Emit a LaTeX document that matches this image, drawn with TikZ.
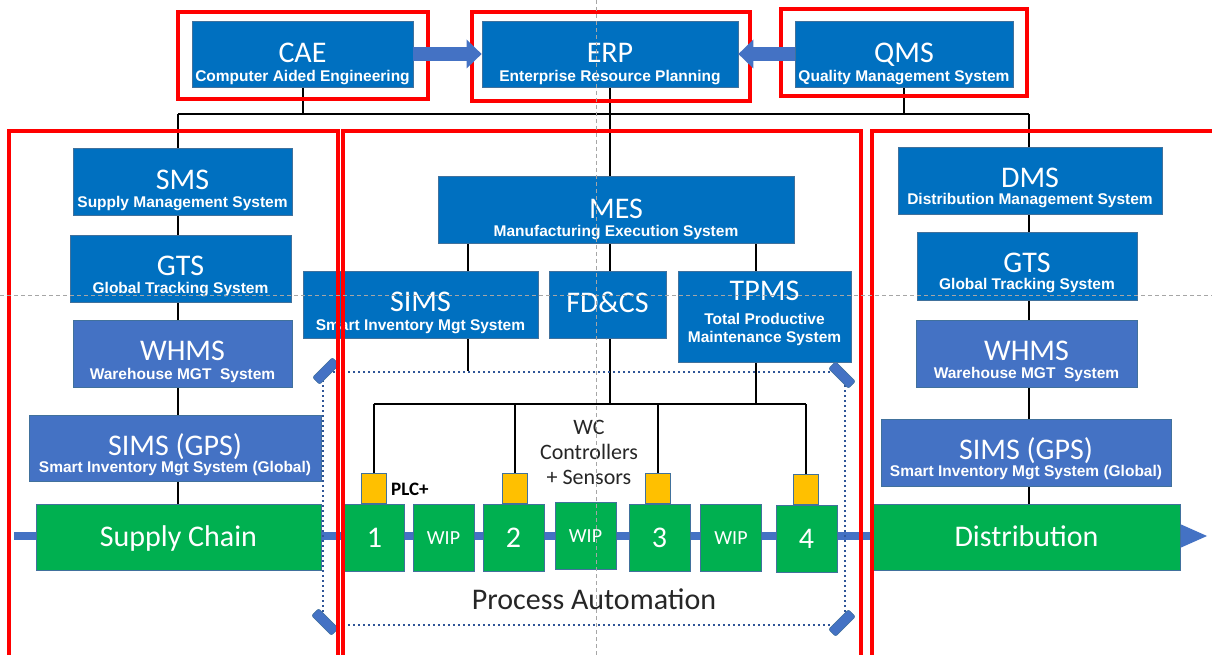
\documentclass[tikz,border=0pt]{standalone}
\usepackage{fontspec}
\setmainfont{Carlito}
\newfontfamily\subfont{Liberation Sans}
\usetikzlibrary{arrows.meta,backgrounds}

\definecolor{sysblue}{HTML}{0070C0}
\definecolor{midblue}{HTML}{4472C4}
\definecolor{edgeblue}{HTML}{41719C}
\definecolor{dotblue}{HTML}{2F5597}
\definecolor{cellgreen}{HTML}{00B050}
\definecolor{plcyellow}{HTML}{FFC000}
\definecolor{guidegray}{HTML}{A6A6A6}
\definecolor{inkgray}{HTML}{262626}

\tikzset{
	sysbox/.style={draw=edgeblue, line width=0.8pt, fill=sysblue, inner sep=0pt},
	whbox/.style={sysbox, fill=midblue},
	cellbox/.style={draw=edgeblue, line width=0.8pt, fill=cellgreen, inner sep=0pt, text=white, minimum width=61pt, minimum height=67pt, font=\fontsize{30}{32}\selectfont, text height=19pt, text depth=0pt},
	wipbox/.style={cellbox, font=\fontsize{20}{22}\selectfont, text height=13pt},
	plcbox/.style={draw=edgeblue, line width=0.8pt, fill=plcyellow, minimum width=25pt, minimum height=30pt, inner sep=0pt, anchor=south},
	systitle/.style={anchor=base, inner sep=0pt, text=white, font=\fontsize{30}{32}\selectfont},
	syssub/.style={anchor=base, inner sep=0pt, text=white, font=\subfont\bfseries\fontsize{15.5}{18}\selectfont},
	redframe/.style={draw=red, line width=3.3pt},
	wire/.style={draw=black, line width=2pt},
	flowline/.style={draw=midblue, line width=8pt, -{Triangle[length=27pt, width=24pt, line width=0pt]}},
	blockarrow/.style={draw=midblue, line width=14pt, -{Triangle[length=15pt, width=29pt, line width=0pt]}},
	cornertab/.style={fill=midblue, draw=edgeblue, line width=0.5pt, rounded corners=2pt, minimum width=28pt, minimum height=10pt, inner sep=0pt},
	dotframe/.style={draw=dotblue, line width=2pt, dash pattern=on 2pt off 3pt, inner sep=0pt},
	guide/.style={draw=guidegray, line width=1pt, dash pattern=on 4pt off 3pt}
}

\begin{document}
\begin{tikzpicture}[x=1pt, y=-1pt]
	\useasboundingbox (0,0) rectangle (1212,655);

	% enterprise level
	\node[sysbox, minimum width=221pt, minimum height=66pt] (cae) at (302.5,54) {};
	\node[systitle] (cae-t) at ([yshift=-42pt]cae.north) {CAE};
	\node[syssub] (cae-s) at ([yshift=-61pt]cae.north) {Computer Aided Engineering};
	\node[sysbox, minimum width=256pt, minimum height=66pt] (erp) at (610,54) {};
	\node[systitle] (erp-t) at ([yshift=-42pt]erp.north) {ERP};
	\node[syssub] (erp-s) at ([yshift=-61pt]erp.north) {Enterprise Resource Planning};
	\node[sysbox, minimum width=218pt, minimum height=66pt] (qms) at (904,54) {};
	\node[systitle] (qms-t) at ([yshift=-42pt]qms.north) {QMS};
	\node[syssub] (qms-s) at ([yshift=-61pt]qms.north) {Quality Management System};

	% supply chain column
	\node[sysbox, minimum width=219pt, minimum height=67pt] (sms) at (182.5,181.5) {};
	\node[systitle] (sms-t) at ([yshift=-42pt]sms.north) {SMS};
	\node[syssub] (sms-s) at ([yshift=-60pt]sms.north) {Supply Management System};
	\node[sysbox, minimum width=221pt, minimum height=67pt] (gts-l) at (180.5,268.5) {};
	\node[systitle] (gts-l-t) at ([yshift=-41pt]gts-l.north) {GTS};
	\node[syssub] (gts-l-s) at ([yshift=-59pt]gts-l.north) {Global Tracking System};
	\node[whbox, minimum width=219pt, minimum height=67pt] (whms-l) at (182.5,353.5) {};
	\node[systitle] (whms-l-t) at ([yshift=-41pt]whms-l.north) {WHMS};
	\node[syssub] (whms-l-s) at ([yshift=-60pt]whms-l.north) {Warehouse MGT\ \ System};
	\node[whbox, minimum width=292pt, minimum height=66pt] (gps-l) at (175,448) {};
	\node[systitle] (gps-l-t) at ([yshift=-41pt]gps-l.north) {SIMS (GPS)};
	\node[syssub] (gps-l-s) at ([yshift=-58pt]gps-l.north) {Smart Inventory Mgt System (Global)};
	\node[cellbox, minimum width=285pt, minimum height=66pt] (supply) at (178.5,537) {Supply Chain};

	% distribution column
	\node[sysbox, minimum width=264pt, minimum height=67pt] (dms) at (1030,180.5) {};
	\node[systitle] (dms-t) at ([yshift=-41pt]dms.north) {DMS};
	\node[syssub] (dms-s) at ([yshift=-58pt]dms.north) {Distribution Management System};
	\node[sysbox, minimum width=220pt, minimum height=68pt] (gts-r) at (1027,266) {};
	\node[systitle] (gts-r-t) at ([yshift=-41pt]gts-r.north) {GTS};
	\node[syssub] (gts-r-s) at ([yshift=-58pt]gts-r.north) {Global Tracking System};
	\node[whbox, minimum width=221pt, minimum height=67pt] (whms-r) at (1026.5,353.5) {};
	\node[systitle] (whms-r-t) at ([yshift=-41pt]whms-r.north) {WHMS};
	\node[syssub] (whms-r-s) at ([yshift=-59pt]whms-r.north) {Warehouse MGT\ \ System};
	\node[whbox, minimum width=290pt, minimum height=67pt] (gps-r) at (1026,452.5) {};
	\node[systitle] (gps-r-t) at ([yshift=-41pt]gps-r.north) {SIMS (GPS)};
	\node[syssub] (gps-r-s) at ([yshift=-58pt]gps-r.north) {Smart Inventory Mgt System (Global)};
	\node[cellbox, minimum width=307pt, minimum height=66pt] (distrib) at (1026.5,537) {Distribution};

	% manufacturing level
	\node[sysbox, minimum width=356pt, minimum height=67pt] (mes) at (616,209.5) {};
	\node[systitle] (mes-t) at ([yshift=-43pt]mes.north) {MES};
	\node[syssub] (mes-s) at ([yshift=-61pt]mes.north) {Manufacturing Execution System};
	\node[sysbox, minimum width=235pt, minimum height=67pt] (sims-m) at (420.5,304.5) {};
	\node[systitle] (sims-m-t) at ([yshift=-41pt]sims-m.north) {SIMS};
	\node[syssub] (sims-m-s) at ([yshift=-60pt]sims-m.north) {Smart Inventory Mgt System};
	\node[sysbox, minimum width=117pt, minimum height=67pt] (fdcs) at (607.5,304.5) {};
	\node[systitle] (fdcs-t) at ([yshift=-42pt]fdcs.north) {FD\&CS};
	\node[sysbox, minimum width=173pt, minimum height=91pt] (tpms) at (764.5,316.5) {};
	\node[systitle] (tpms-t) at ([yshift=-30pt]tpms.north) {TPMS};
	\node[syssub] (tpms-s1) at ([yshift=-54pt]tpms.north) {Total Productive};
	\node[syssub] (tpms-s2) at ([yshift=-72pt]tpms.north) {Maintenance System};

	% work cells
	\node[dotframe, minimum width=522pt, minimum height=253pt] (pa) at (584,498.5) {};
	\node[cornertab, rotate=45] (tab-nw) at ([xshift=4pt]pa.north west) {};
	\node[cornertab, rotate=-45] (tab-ne) at ([xshift=-4pt, yshift=-4pt]pa.north east) {};
	\node[cornertab, rotate=-45] (tab-sw) at ([xshift=3pt, yshift=4pt]pa.south west) {};
	\node[cornertab, rotate=45] (tab-se) at ([xshift=-4pt, yshift=3pt]pa.south east) {};

	\node[cellbox, minimum width=60pt] (cell-1) at (374.5,537.5) {1};
	\node[wipbox] (wip-1) at (443.5,537.5) {WIP};
	\node[cellbox] (cell-2) at (513.5,537.5) {2};
	\node[wipbox] (wip-2) at (585.5,536) {WIP};
	\node[cellbox] (cell-3) at (659.5,537.5) {3};
	\node[wipbox] (wip-3) at (731,537.5) {WIP};
	\node[cellbox] (cell-4) at (806.5,538.5) {4};

	\node[plcbox] (plc-1) at ([xshift=-1pt]cell-1.north) {};
	\node[plcbox] (plc-2) at ([xshift=1pt]cell-2.north) {};
	\node[plcbox] (plc-3) at ([xshift=-2pt]cell-3.north) {};
	\node[plcbox] (plc-4) at ([xshift=-1pt]cell-4.north) {};
	\node[anchor=base west, inner sep=0pt, font=\bfseries\fontsize{19}{21}\selectfont] (plc-label) at (391,495) {PLC+};

	\node[align=center, anchor=north, inner sep=0pt, text=inkgray, font=\fontsize{22}{25}\selectfont] (wc-label) at (589,420) {WC\\Controllers\\+ Sensors};
	\node[anchor=base, inner sep=0pt, text=inkgray, font=\fontsize{30}{32}\selectfont] (pa-label) at (594,609) {Process Automation};

	% connectors behind the boxes
	\begin{scope}[on background layer]
		\fill[white] (0,0) rectangle (1212,655);
		\coordinate (flow-start) at (14,536);
		\coordinate (flow-end) at (1207,536);
		\draw[flowline] (flow-start) -- (flow-end);

		\coordinate (lcol) at (178,114);
		\coordinate (rcol) at (1029,114);
		\draw[wire] (lcol) -- (rcol);
		\draw[wire] (lcol) -- (lcol |- supply.north);
		\draw[wire] (rcol) -- (rcol |- distrib.north);
		\draw[wire] (cae.south) -- (cae.south |- lcol);
		\draw[wire] (qms.south) -- (qms.south |- rcol);

		\coordinate (cbus) at (372,404);
		\coordinate (sims-tap) at (468,243);
		\coordinate (tpms-tap) at (756,243);
		\draw[wire] (erp.south) -- (erp.south |- cbus);
		\draw[wire] (sims-tap) -- (sims-tap |- pa.north);
		\draw[wire] (tpms-tap) -- (tpms-tap |- cbus);
		\draw[wire] (plc-1.north |- cbus) -- (plc-4.north |- cbus);
		\draw[wire] (plc-1.north |- cbus) -- (plc-1.north);
		\draw[wire] (plc-2.north |- cbus) -- (plc-2.north);
		\draw[wire] (plc-3.north |- cbus) -- (plc-3.north);
		\draw[wire] (plc-4.north |- cbus) -- (plc-4.north);
	\end{scope}

	% scope frames
	\node[redframe, minimum width=250pt, minimum height=87pt] (cae-frame) at (303,55.5) {};
	\node[redframe, minimum width=278pt, minimum height=89pt] (erp-frame) at (611,56.5) {};
	\node[redframe, minimum width=246pt, minimum height=87pt] (qms-frame) at (904,52.5) {};
	\draw[redframe] (9,660) -- (9,131) -- (338,131) -- (338,660);
	\draw[redframe] (343,660) -- (343,131) -- (861,131) -- (861,660);
	\draw[redframe] (872,660) -- (872,131) -- (1215,131);

	\draw[blockarrow] (cae.east) -- (erp.west);
	\draw[blockarrow] (qms.west) -- (erp.east);

	% guides
	\coordinate (guide-n) at (596,0);
	\coordinate (guide-s) at (596,655);
	\coordinate (guide-w) at (0,295);
	\coordinate (guide-e) at (1212,295);
	\draw[guide] (guide-n) -- (guide-s);
	\draw[guide] (guide-w) -- (guide-e);
\end{tikzpicture}
\end{document}
